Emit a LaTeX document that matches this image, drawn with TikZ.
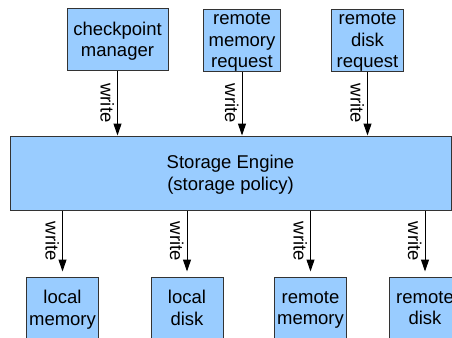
\documentclass[tikz,border=0pt]{standalone}
\usepackage{fontspec}
\setmainfont{Liberation Sans}
\usetikzlibrary{arrows.meta}
\definecolor{boxblue}{HTML}{99CCFF}
\definecolor{edgegray}{HTML}{333333}
\begin{document}
\begin{tikzpicture}[x=1pt,y=-1pt,
  box/.style={draw=edgegray, line width=1pt, fill=boxblue, align=center, inner sep=0pt,
    text depth=-1pt, font=\fontsize{18.5}{21.5}\selectfont},
  conn/.style={draw=black, line width=1pt, -{Triangle[length=12pt,width=8pt]}},
  lbl/.style={rotate=-90, anchor=north, inner sep=3pt, font=\fontsize{18.5}{21.5}\selectfont}]
\useasboundingbox (0,0) rectangle (452,337);
\clip (0,0) rectangle (452,337);
% top boxes
\node[box, minimum width=101pt, minimum height=61pt] (cm) at (117.5,39.5) {checkpoint\\manager};
\node[box, minimum width=77pt, minimum height=61pt] (rmr) at (242,40.5) {remote\\memory\\request};
\node[box, minimum width=72pt, minimum height=61pt] (rdr) at (367.5,40.5) {remote\\disk\\request};
% engine
\node[box, minimum width=441pt, minimum height=74pt] (se) at (230.5,173) {Storage Engine\\(storage policy)};
% bottom boxes
\node[box, minimum width=72pt, minimum height=62pt] (lm) at (62.5,308) {local\\memory};
\node[box, minimum width=72pt, minimum height=62pt] (ld) at (187,308) {local\\disk};
\node[box, minimum width=72pt, minimum height=62pt] (rm) at (310.5,308) {remote\\memory};
\node[box, minimum width=72pt, minimum height=62pt] (rd) at (425,308) {remote\\disk};
% top arrows
\draw[conn] (cm.south) -- (cm.south |- se.north) node[lbl, midway] {write};
\draw[conn] (rmr.south) -- (rmr.south |- se.north) node[lbl, midway] {write};
\draw[conn] (rdr.south) -- (rdr.south |- se.north) node[lbl, midway] {write};
% bottom arrows
\draw[conn, shorten >=5pt] (se.south -| lm.north) -- (lm.north) node[lbl, pos=0.47] {write};
\draw[conn, shorten >=5pt] (se.south -| ld.north) -- (ld.north) node[lbl, pos=0.47] {write};
\draw[conn, shorten >=5pt] (se.south -| rm.north) -- (rm.north) node[lbl, pos=0.47] {write};
\draw[conn, shorten >=5pt] (se.south -| rd.north) -- (rd.north) node[lbl, pos=0.47] {write};
\end{tikzpicture}
\end{document}
